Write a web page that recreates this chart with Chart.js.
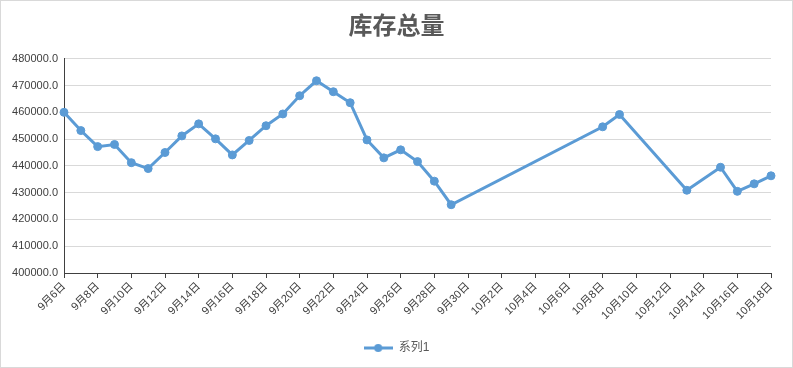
<!DOCTYPE html>
<html>
<head>
<meta charset="utf-8">
<script src="https://cdn.jsdelivr.net/npm/chart.js@4/dist/chart.umd.min.js"></script>
<style>
  html, body { margin: 0; padding: 0; background: #fff; }
  #wrap { position: relative; width: 793px; height: 368px; }
</style>
</head>
<body>
<div id="wrap"><canvas id="myChart"></canvas></div>
<script>
const categories = [
  "9月6日", "9月7日", "9月8日", "9月9日", "9月10日", "9月11日", "9月12日", "9月13日",
  "9月14日", "9月15日", "9月16日", "9月17日", "9月18日", "9月19日", "9月20日", "9月21日",
  "9月22日", "9月23日", "9月24日", "9月25日", "9月26日", "9月27日", "9月28日", "9月29日",
  "9月30日", "10月1日", "10月2日", "10月3日", "10月4日", "10月5日", "10月6日", "10月7日",
  "10月8日", "10月9日", "10月10日", "10月11日", "10月12日", "10月13日", "10月14日", "10月15日",
  "10月16日", "10月17日", "10月18日"
];
// 没有数据的日期用 null，折线直接连过去
const series1 = [
  460000, 453200, 447200, 448000, 441200, 439000, 445000, 451200,
  455700, 450100, 444100, 449500, 455000, 459400, 466200, 471800,
  467700, 463600, 449700, 443000, 446000, 441600, 434300, 425500,
  null, null, null, null, null, null, null, null,
  454600, 459200, null, null, null, 430900, null, 439500,
  430500, 433300, 436300
];
const yMin = 400000;
const yMax = 480000;
const yStep = 10000;

const blue = "#5b9bd5";
const textGray = "#595959";
const fontFamily = "'Liberation Sans', 'Noto Sans CJK SC', sans-serif";

// 图例用的小图标：线 + 圆点
const legendIcon = document.createElement("canvas");
legendIcon.width = 29;
legendIcon.height = 10;
(function () {
  const c = legendIcon.getContext("2d");
  c.strokeStyle = blue;
  c.lineWidth = 3;
  c.beginPath();
  c.moveTo(0, 5);
  c.lineTo(29, 5);
  c.stroke();
  c.fillStyle = blue;
  c.beginPath();
  c.arc(14.5, 5, 4, 0, Math.PI * 2);
  c.fill();
})();

const borderPlugin = {
  id: "outerBorder",
  afterDraw(chart) {
    const c = chart.ctx;
    c.save();
    c.strokeStyle = "#d9d9d9";
    c.lineWidth = 1;
    c.strokeRect(0.5, 0.5, chart.width - 1, chart.height - 1);
    c.restore();
  },
};

const ctx = document.getElementById("myChart");
new Chart(ctx, {
  type: "line",
  data: {
    labels: categories,
    datasets: [
      {
        label: "系列1",
        data: series1,
        borderColor: blue,
        backgroundColor: blue,
        borderWidth: 3,
        pointRadius: 4,
        pointBackgroundColor: blue,
        pointBorderColor: blue,
        pointBorderWidth: 1,
        tension: 0,
        spanGaps: true,
      },
    ],
  },
  options: {
    responsive: true,
    maintainAspectRatio: false,
    animation: false,
    layout: {
      padding: { left: 0, right: 0, top: 0, bottom: 4 },
    },
    plugins: {
      title: {
        display: true,
        text: "库存总量",
        color: textGray,
        font: { family: "'Noto Sans CJK SC', sans-serif", size: 24, weight: "bold" },
        padding: { top: 10, bottom: 20 },
      },
      legend: {
        position: "bottom",
        labels: {
          usePointStyle: true,
          pointStyle: legendIcon,
          pointStyleWidth: 29,
          color: textGray,
          font: { family: fontFamily, size: 12 },
          padding: 10,
        },
      },
      tooltip: { enabled: false },
    },
    scales: {
      x: {
        offset: false,
        afterFit: (scale) => {
          scale.height = 59;
          scale.paddingRight = 22; // 右边留白
        },
        grid: {
          drawOnChartArea: false,
          drawTicks: true,
          tickLength: 5,
          color: "#404040",
        },
        border: { display: true, color: "#404040", width: 1 },
        ticks: {
          autoSkip: false,
          maxRotation: 45,
          minRotation: 45,
          color: "#404040",
          font: { family: fontFamily, size: 11 },
          padding: 2,
          callback: function (value, index) {
            return index % 2 === 0 ? this.getLabelForValue(value) : null;
          },
        },
      },
      y: {
        min: yMin,
        max: yMax,
        afterFit: (scale) => { scale.width = 64; },
        grid: {
          color: "#d9d9d9",
          drawTicks: false,
        },
        border: { display: true, color: "#404040", width: 1 },
        ticks: {
          stepSize: yStep,
          color: "#404040",
          font: { family: fontFamily, size: 11 },
          padding: 6,
          callback: (v) => v.toFixed(1),
        },
      },
    },
  },
  plugins: [borderPlugin],
});
</script>
</body>
</html>
